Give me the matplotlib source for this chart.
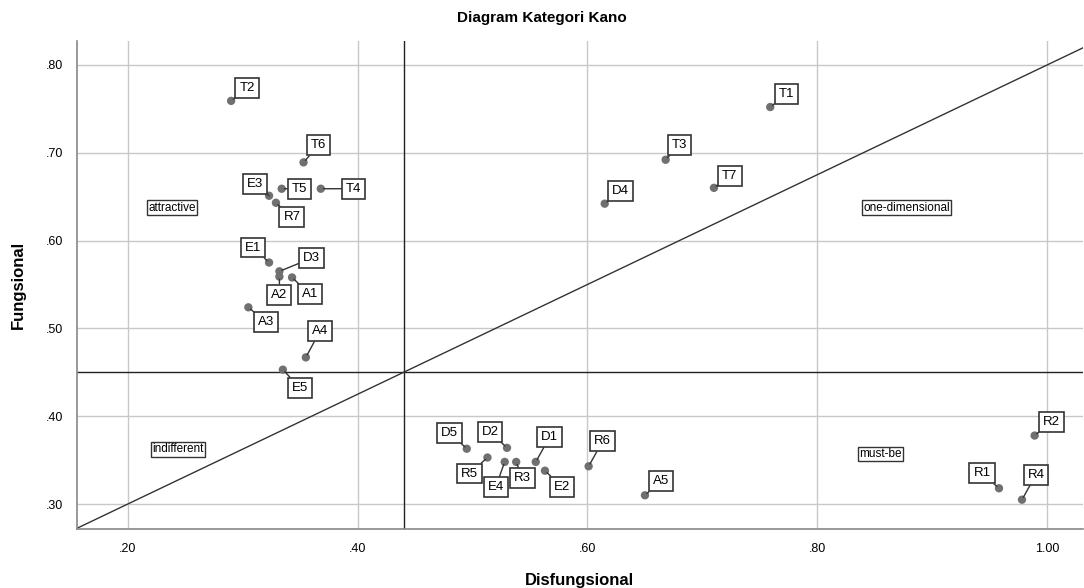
import numpy as np
import matplotlib.pyplot as plt

plt.rcParams['font.family'] = ['Liberation Sans', 'DejaVu Sans']

# data: (disfungsional, fungsional) per atribut
labels = ['T2', 'T6', 'T5', 'T4', 'E3', 'R7', 'E1', 'D3', 'A2', 'A1', 'A3', 'A4', 'E5',
          'T1', 'T3', 'T7', 'D4',
          'D5', 'D2', 'R5', 'E4', 'R3', 'D1', 'E2', 'R6', 'A5',
          'R2', 'R1', 'R4']
disf = [0.290, 0.353, 0.334, 0.368, 0.323, 0.329, 0.323, 0.332, 0.332, 0.343, 0.305, 0.355, 0.335,
        0.759, 0.668, 0.710, 0.615,
        0.495, 0.530, 0.513, 0.528, 0.538, 0.555, 0.563, 0.601, 0.650,
        0.989, 0.958, 0.978]
fung = [0.759, 0.689, 0.659, 0.659, 0.651, 0.643, 0.575, 0.565, 0.559, 0.558, 0.524, 0.467, 0.453,
        0.752, 0.692, 0.660, 0.642,
        0.363, 0.364, 0.353, 0.348, 0.348, 0.348, 0.338, 0.343, 0.310,
        0.378, 0.318, 0.305]

# label box offsets (pixels)
offs = {'T2': (16, 13), 'T6': (15, 17), 'T5': (18, 0), 'T4': (33, 0), 'E3': (-14, 12),
        'R7': (16, -14), 'E1': (-16, 15), 'D3': (32, 13), 'A2': (0, -18), 'A1': (18, -17),
        'A3': (18, -15), 'A4': (14, 26), 'E5': (17, -18),
        'T1': (16, 13), 'T3': (14, 15), 'T7': (16, 12), 'D4': (16, 13),
        'D5': (-17, 16), 'D2': (-17, 16), 'R5': (-18, -16), 'E4': (-9, -25), 'R3': (6, -16),
        'D1': (14, 25), 'E2': (17, -16), 'R6': (14, 25), 'A5': (16, 14),
        'R2': (17, 14), 'R1': (-17, 15), 'R4': (14, 25)}

mean_x = 0.44
mean_y = 0.45
slope = 0.625

cat_names = ['attractive', 'one-dimensional', 'indifferent', 'must-be']
cat_x = [0.2385, 0.8777, 0.2437, 0.855]
cat_y = [0.6375, 0.6375, 0.3625, 0.357]

fig = plt.figure(figsize=(10.84, 5.88), dpi=100)
ax = fig.add_axes([0.0708, 0.1009, 0.9282, 0.8291])

ax.set_xlim(0.1557, 1.031)
ax.set_ylim(0.272, 0.827)
ax.set_xticks([0.2, 0.4, 0.6, 0.8, 1.0])
ax.set_xticklabels(['.20', '.40', '.60', '.80', '1.00'])
ax.set_yticks([0.3, 0.4, 0.5, 0.6, 0.7, 0.8])
ax.set_yticklabels(['.30', '.40', '.50', '.60', '.70', '.80'])
ax.tick_params(length=0, labelsize=9, pad=10)
ax.grid(True, color='#c8c8c8', lw=1)
ax.set_axisbelow(True)
for s in ['top', 'right']:
    ax.spines[s].set_visible(False)
for s in ['left', 'bottom']:
    ax.spines[s].set_color('#888888')
    ax.spines[s].set_linewidth(1.2)

ax.axvline(mean_x, color='#222222', lw=1)
ax.axhline(mean_y, color='#222222', lw=1)
ax.axline((mean_x, mean_y), slope=slope, color='#333333', lw=1)

ax.scatter(disf, fung, s=36, color='#707070', zorder=3, edgecolors='none')

for lab, x, y in zip(labels, disf, fung):
    dx, dy = offs[lab]
    ax.annotate(lab, (x, y), xytext=(dx, dy), textcoords='offset pixels',
                ha='center', va='center', fontsize=9.5, zorder=4,
                bbox=dict(boxstyle='square,pad=0.3', fc='white', ec='#333333', lw=1.2),
                arrowprops=dict(arrowstyle='-', color='#333333', lw=1, shrinkA=0, shrinkB=2))

for name, x, y in zip(cat_names, cat_x, cat_y):
    ax.text(x, y, name, ha='center', va='center', fontsize=8.5, zorder=4,
            bbox=dict(boxstyle='square,pad=0.12', fc='white', ec='#333333', lw=1))

fig.suptitle('Diagram Kategori Kano', y=0.982, fontsize=11, fontweight='bold')
ax.set_xlabel('Disfungsional', fontsize=12, fontweight='bold', labelpad=13)
ax.set_ylabel('Fungsional', fontsize=12, fontweight='bold', labelpad=14)

fig.savefig('out.png', dpi=100)
